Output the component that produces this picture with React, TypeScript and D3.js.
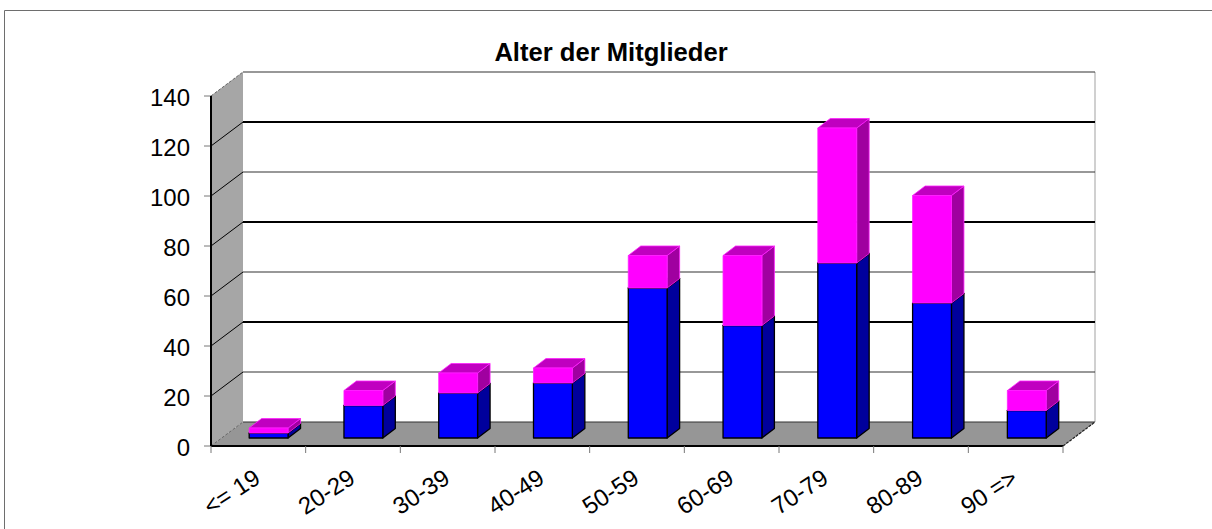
import * as d3 from 'd3'

const categories = ['<= 19', '20-29', '30-39', '40-49', '50-59', '60-69', '70-79', '80-89', '90 =>']
const blueValues = [2, 13, 18, 22, 60, 45, 70, 54, 11]
const pinkValues = [2, 6, 8, 6, 13, 28, 54, 43, 8]
const yTicks = [0, 20, 40, 60, 80, 100, 120, 140]
const title = 'Alter der Mitglieder'

const W = 1212
const H = 529
const FONT = '"Liberation Sans", Arial, sans-serif'

// chart box: front-left corner of the floor plus the 3D offset of the back wall
const left = 211
const right = 1063
const base = 446
const top = 96
const depthX = 32
const depthY = 24
// bars stand one third into the floor and take a third of its depth
const barOffX = 10.7
const barOffY = 8
const barDepthX = 12.5
const barDepthY = 9.5

const x = d3.scaleBand<string>().domain(categories).range([left, right]).paddingInner(0.59).paddingOuter(0.29)
const xEdge = d3.scaleLinear().domain([0, categories.length]).range([left, right])
const y = d3.scaleLinear().domain([0, 140]).range([base, top])

const stacked = d3.stack<number>()
  .keys(['blue', 'pink'])
  .value((i, key) => (key === 'blue' ? blueValues[i] : pinkValues[i]))(d3.range(categories.length))

const colors = [
  { front: '#0000ff', top: '#0000c0', side: '#00009c', stroke: '#000000' },
  { front: '#ff00ff', top: '#c000c0', side: '#a000a0', stroke: '#ff20ff' },
]

const pts = (p: number[][]) => p.map((d) => d.join(',')).join(' ')

function Segment({ i, s }: { i: number; s: number }) {
  const c = colors[s]
  const [v0, v1] = stacked[s][i]
  const x0 = x(categories[i])! + barOffX
  const x1 = x0 + x.bandwidth()
  const y0 = y(v0) - barOffY
  const y1 = y(v1) - barOffY
  const sw = s === 0 ? 1.3 : 0.8
  return (
    <g stroke={c.stroke} strokeWidth={sw} strokeLinejoin="round">
      <polygon fill={c.side} points={pts([[x1, y0], [x1 + barDepthX, y0 - barDepthY], [x1 + barDepthX, y1 - barDepthY], [x1, y1]])} />
      <polygon fill={c.top} points={pts([[x0, y1], [x0 + barDepthX, y1 - barDepthY], [x1 + barDepthX, y1 - barDepthY], [x1, y1]])} />
      <rect x={x0} y={y1} width={x1 - x0} height={y0 - y1} fill={c.front} />
    </g>
  )
}

export default function App() {
  return (
    <svg width={W} height={H} style={{ position: 'absolute', left: 0, top: 0, display: 'block', background: '#fff' }} fontFamily={FONT}>
      {/* outer frame, cut off by the picture at right and bottom */}
      <path d={`M4.5,${H} V10.5 H${W}`} fill="none" stroke="#6e6e6e" strokeWidth={1} />

      <text x={611} y={61} textAnchor="middle" fontSize={25.6} fontWeight="bold" fill="#000">{title}</text>

      {/* walls and floor */}
      <polygon fill="#a6a6a6" points={pts([[left, top], [left + depthX, top - depthY], [left + depthX, base - depthY], [left, base]])} />
      <polygon fill="#969696" points={pts([[left, base], [left + depthX, base - depthY], [right + depthX, base - depthY], [right, base]])} />
      <line x1={right + depthX} x2={right + depthX} y1={top - depthY} y2={base - depthY} stroke="#c0c0c0" strokeWidth={1.5} />

      {/* grid */}
      {yTicks.map((t) => {
        const yy = y(t)
        const heavy = t === 40 || t === 80 || t === 120
        const edge = t === 0 || t === 140
        return (
          <g key={t} fill="none">
            <line x1={left + depthX} x2={right + depthX} y1={yy - depthY} y2={yy - depthY}
              strokeWidth={heavy ? 2 : 1.2} stroke={heavy ? '#000' : '#333'} />
            <line x1={left} x2={left + depthX} y1={yy} y2={yy - depthY} strokeWidth={1}
              strokeDasharray={edge ? '3 1.5' : undefined} stroke={edge ? '#666' : '#000'} />
            <line x1={left - 7} x2={left} y1={yy} y2={yy} stroke="#777" strokeWidth={1} />
          </g>
        )
      })}
      <line x1={right} x2={right + depthX} y1={base} y2={base - depthY} stroke="#222" strokeWidth={1.2} strokeDasharray="3 1" />

      {/* axes */}
      <line x1={left} x2={left} y1={top} y2={base} stroke="#000" strokeWidth={2} />
      <line x1={left} x2={right} y1={base} y2={base} stroke="#000" strokeWidth={2} />
      {d3.range(categories.length + 1).map((i) => (
        <line key={i} x1={xEdge(i)} x2={xEdge(i)} y1={base} y2={base + 7} stroke="#777" strokeWidth={1} />
      ))}

      {/* bars */}
      {categories.map((_, i) => (
        <g key={i}>
          <Segment i={i} s={0} />
          <Segment i={i} s={1} />
        </g>
      ))}

      {/* labels */}
      {yTicks.map((t) => (
        <text key={t} x={190} y={y(t) + 10} textAnchor="end" fontSize={24} fill="#000">{t}</text>
      ))}
      {categories.map((c, i) => (
        <text key={c} textAnchor="end" fontSize={24} fill="#000"
          transform={`translate(${xEdge(i) + 51},${482}) rotate(-33)`}>{c}</text>
      ))}
    </svg>
  )
}
